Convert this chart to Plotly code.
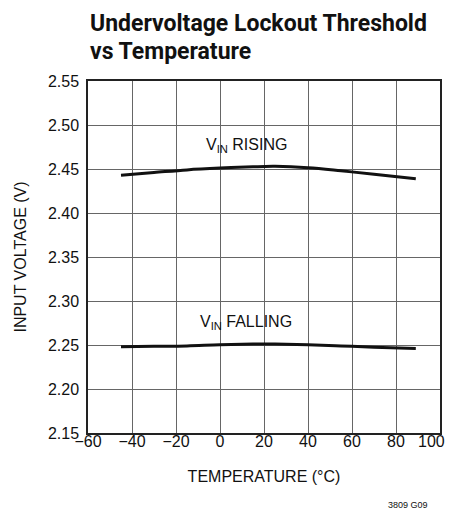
import plotly.graph_objects as go

temp_rising = [-45, -30, -15, 0, 15, 25, 40, 55, 70, 89]
v_rising = [2.443, 2.446, 2.449, 2.451, 2.4525, 2.453, 2.4515, 2.448, 2.444, 2.439]
temp_falling = [-45, -30, -15, 0, 15, 25, 40, 55, 70, 89]
v_falling = [2.248, 2.2485, 2.249, 2.2503, 2.251, 2.251, 2.2503, 2.249, 2.2475, 2.246]

x_ticks = [-60, -40, -20, 0, 20, 40, 60, 80, 100]
y_ticks = [2.15, 2.20, 2.25, 2.30, 2.35, 2.40, 2.45, 2.50, 2.55]

FONT = "Liberation Sans, Arial, sans-serif"
TITLE_FONT = "Roboto, Liberation Sans, sans-serif"

# page has an 8px body margin on every side; figure sized so the page is exactly 455x517
FIG_W, FIG_H = 439, 501
PLOT_H = 352
PLOT_TOP = 73      # figure coords
PLOT_BOTTOM = 425  # figure coords


def fmt(v):
    return ("\u2212%d" % -v) if v < 0 else str(v)


# last tick label drawn as an annotation so it stays inside the page
x_ticktext = [fmt(v) for v in x_ticks[:-1]] + [""]

fig = go.Figure()
fig.add_trace(go.Scatter(x=temp_rising, y=v_rising, mode="lines",
                         line=dict(color="#111", width=3, shape="spline", smoothing=1.0), showlegend=False))
fig.add_trace(go.Scatter(x=temp_falling, y=v_falling, mode="lines",
                         line=dict(color="#111", width=3, shape="spline", smoothing=1.0), showlegend=False))

fig.add_annotation(x=12, y=2.477, text="V<sub>IN</sub> RISING", showarrow=False,
                   font=dict(family=FONT, size=16, color="#111"))
fig.add_annotation(x=12, y=2.276, text="V<sub>IN</sub> FALLING", showarrow=False,
                   font=dict(family=FONT, size=16, color="#111"))
fig.add_annotation(xref="x", yref="paper", x=x_ticks[-1], y=-(433 - PLOT_BOTTOM) / PLOT_H, text=fmt(x_ticks[-1]),
                   showarrow=False, xanchor="right", yanchor="middle", xshift=7,
                   font=dict(family=FONT, size=16, color="#111"))
fig.add_annotation(xref="paper", yref="paper", x=(422 - 80) / 352, y=-(497 - PLOT_BOTTOM) / PLOT_H, text="3809 G09",
                   showarrow=False, xanchor="right", yanchor="middle", font=dict(family=FONT, size=9, color="#111"))
fig.add_annotation(xref="paper", yref="paper", x=0.0, y=1 + (PLOT_TOP - 0) / PLOT_H, xanchor="left", yanchor="top",
                   align="left", showarrow=False, text="<b>Undervoltage Lockout Threshold</b>",
                   font=dict(family=TITLE_FONT, size=23, color="#111"))
fig.add_annotation(xref="paper", yref="paper", x=0.0, y=1 + (PLOT_TOP - 28) / PLOT_H, xanchor="left", yanchor="top",
                   align="left", showarrow=False, text="<b>vs Temperature</b>",
                   font=dict(family=TITLE_FONT, size=23, color="#111"))

fig.update_layout(
    width=FIG_W, height=FIG_H,
    margin=dict(l=80, r=FIG_W - 432, t=PLOT_TOP, b=FIG_H - PLOT_BOTTOM, autoexpand=False),
    paper_bgcolor="white", plot_bgcolor="white",
    font=dict(family=FONT, size=16, color="#111"),
)
fig.update_xaxes(range=[-60, 100], tickvals=x_ticks, ticktext=x_ticktext, showgrid=True, gridcolor="#666", gridwidth=1,
                 showline=True, linecolor="#222", linewidth=1.5, mirror=True, ticks="", zeroline=False,
                 ticklabelstandoff=-7, ticklabeloverflow="allow", automargin=False,
                 title=dict(text="TEMPERATURE (°C)", font=dict(size=16), standoff=22))
fig.update_yaxes(range=[2.15, 2.55], tickvals=y_ticks, tickformat=".2f", showgrid=True, gridcolor="#666", gridwidth=1,
                 showline=True, linecolor="#222", linewidth=1.5, mirror=True, ticks="", zeroline=False,
                 ticklabelstandoff=4, ticklabeloverflow="allow", automargin=False,
                 title=dict(text="INPUT VOLTAGE (V)", font=dict(size=16), standoff=17))

fig.write_html("out.html")
